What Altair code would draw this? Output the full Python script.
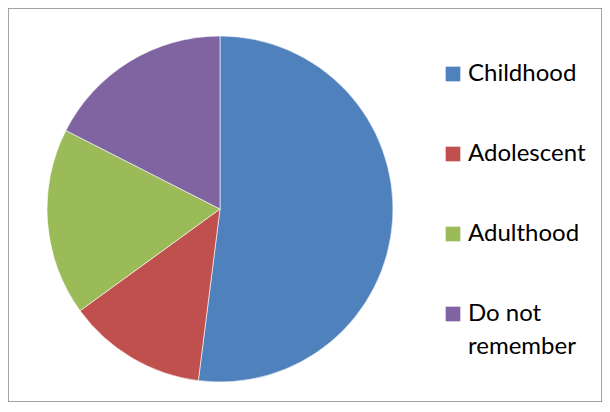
import altair as alt
import pandas as pd

categories = ["Childhood", "Adolescent", "Adulthood", "Do not remember"]
values = [52, 13, 17.5, 17.5]
colors = ["#4F81BD", "#C0504D", "#9BBB59", "#8064A2"]

df = pd.DataFrame({"category": categories, "value": values, "order": list(range(len(categories)))})

chart = (
    alt.Chart(df)
    .mark_arc(radius=173, stroke="white", strokeWidth=0.6)
    .encode(
        theta=alt.Theta("value:Q", stack=True),
        color=alt.Color(
            "category:N",
            sort=categories,
            scale=alt.Scale(domain=categories, range=colors),
            legend=alt.Legend(
                title=None,
                orient="none",
                legendX=433,
                legendY=54,
                symbolType="square",
                symbolSize=215,
                symbolStrokeWidth=0,
                labelFontSize=24,
                labelFont="Lato",
                labelColor="#000000",
                labelOffset=3,
                rowPadding=56,
                labelExpr="datum.label == 'Do not remember' ? ['Do not', 'remember'] : datum.label",
            ),
        ),
        order=alt.Order("order:Q"),
        x=alt.value(212),
        y=alt.value(201),
    )
    .properties(width=594, height=394, padding=0)
    .configure(
        view={"stroke": "#868686", "strokeWidth": 1.5},
        style={"guide-label": {"lineHeight": 33}},
    )
)

chart.save("out.html", embed_options={"renderer": "svg", "actions": False})
